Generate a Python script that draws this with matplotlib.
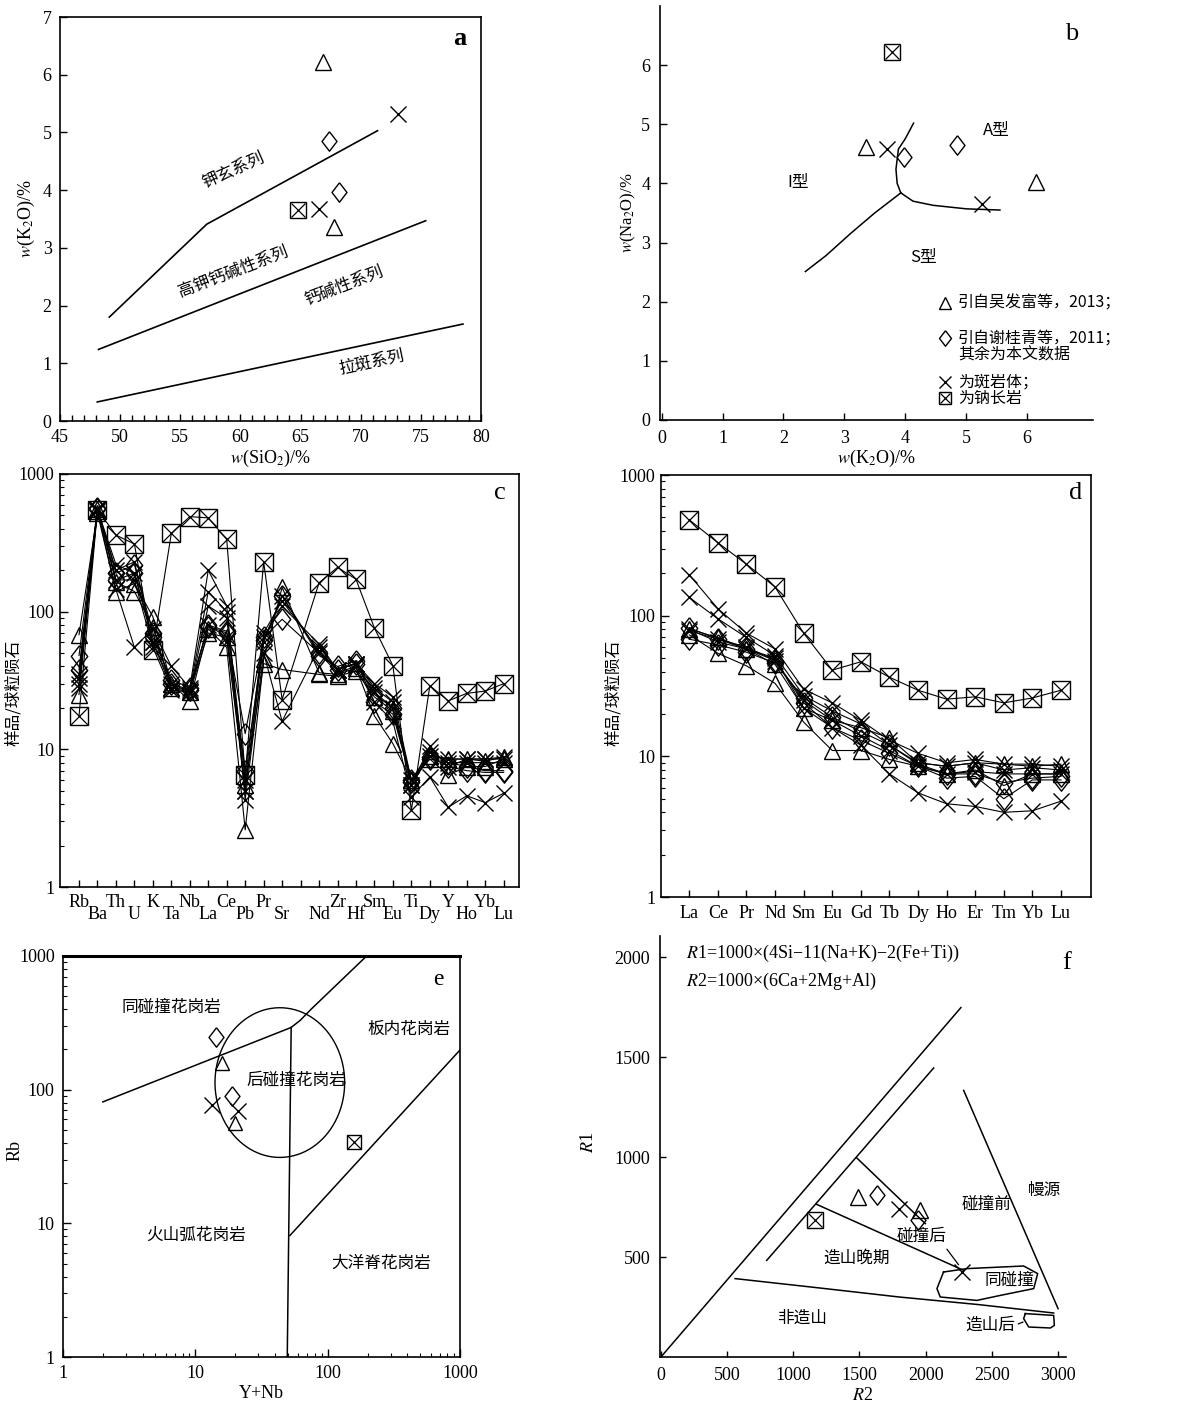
import numpy as np
import matplotlib
matplotlib.use('Agg')
import matplotlib.pyplot as plt
from matplotlib.ticker import MultipleLocator, LogLocator, NullFormatter, FixedLocator, FixedFormatter

plt.rcParams['font.family'] = ['Liberation Serif', 'Noto Sans CJK SC']
plt.rcParams['mathtext.fontset'] = 'stix'
plt.rcParams['axes.linewidth'] = 1.2
plt.rcParams['xtick.direction'] = 'in'
plt.rcParams['ytick.direction'] = 'in'
CJK = ['Noto Sans CJK SC', 'Liberation Serif']

# ---------------- panel a data ----------------
a_shosh_x = [49.1, 57.2, 71.4]; a_shosh_y = [1.80, 3.41, 5.03]
a_hk_x = [48.2, 75.4]; a_hk_y = [1.24, 3.47]
a_th_x = [48.1, 78.5]; a_th_y = [0.33, 1.68]
a_tri_x = [66.9, 67.8]; a_tri_y = [6.22, 3.36]
a_dia_x = [67.4, 68.2]; a_dia_y = [4.85, 3.97]
a_x_x = [73.1, 66.5]; a_x_y = [5.32, 3.68]
a_sq_x = [64.8]; a_sq_y = [3.66]

# ---------------- panel b data ----------------
b_c1_x = [2.36, 2.7, 3.1, 3.5, 3.93]; b_c1_y = [2.51, 2.78, 3.15, 3.5, 3.84]
b_c2_x = [3.93, 3.87, 3.85, 3.89, 4.0, 4.14]; b_c2_y = [3.84, 4.0, 4.24, 4.58, 4.75, 5.02]
b_c3_x = [3.93, 4.13, 4.46, 5.01, 5.56]; b_c3_y = [3.84, 3.70, 3.63, 3.57, 3.55]
b_sq_x = [3.78]; b_sq_y = [6.23]
b_tri_x = [3.36, 6.16]; b_tri_y = [4.62, 4.02]
b_x_x = [3.70, 5.27]; b_x_y = [4.59, 3.66]
b_dia_x = [3.98, 4.85]; b_dia_y = [4.45, 4.65]

# ---------------- panel c data ----------------
c_elements = ['Rb', 'Ba', 'Th', 'U', 'K', 'Ta', 'Nb', 'La', 'Ce', 'Pb', 'Pr', 'Sr', 'P',
              'Nd', 'Zr', 'Hf', 'Sm', 'Eu', 'Ti', 'Dy', 'Y', 'Ho', 'Yb', 'Lu']
c_shown = [e if e != 'P' else '' for e in c_elements]
nan = np.nan
c_sq = [17.5, 550, 360, 310, 53, 370, 490, 480, 335, 6.5, 230, 23, nan, 162, 210, 172, 76, 40.5, 3.6, 29, 22.5, 25.5, 26.5, 30]
c_t1 = [68, 520, 140, 160, 92, 30, 22.5, 75, 55, 2.6, 45, 150, nan, 36, 35, 39, 17.5, 11, 6, 8.5, 6.5, 7.5, 7.5, 8.5]
c_t2 = [25, 560, 165, 140, 78, 28, 26, 70, 65, 5.5, 42, 38, nan, 35, 34, 37, 24, 19, 6, 9, 8.5, 8.5, 8.2, 8.8]
c_d1 = [48, 570, 190, 220, 70, 30, 27, 80, 72, 13, 65, 88, nan, 50, 38, 42, 25, 20, 6, 8.5, 8, 7.5, 7, 7]
c_d2 = [38, 560, 170, 190, 65, 32, 28, 78, 70, 7, 62, 130, nan, 48, 40, 44, 22, 18, 5.8, 8.8, 7.5, 7, 6.8, 6.8]
c_x1 = [30, 540, 145, 55, 75, 40, 28, 200, 110, 4.3, 50, 16, nan, 55, 38, 42, 28, 22, 5.5, 10.5, 7.5, 8.5, 8.5, 8.8]
c_x2 = [33, 560, 200, 230, 60, 28, 27, 140, 100, 6, 70, 120, nan, 52, 38, 42, 26, 20, 5.5, 9, 8.5, 8.5, 8.5, 8.5]
c_x3 = [28, 560, 170, 170, 55, 27, 26, 80, 65, 5, 60, 130, nan, 50, 36, 40, 22, 16, 4.5, 6.3, 3.8, 4.6, 4.1, 4.8]
c_x4 = [35, 550, 220, 190, 60, 30, 26, 110, 90, 5, 65, 110, nan, 58, 38, 42, 30, 24, 6, 9.5, 8, 8, 8, 8]

# ---------------- panel d data ----------------
d_elements = ['La', 'Ce', 'Pr', 'Nd', 'Sm', 'Eu', 'Gd', 'Tb', 'Dy', 'Ho', 'Er', 'Tm', 'Yb', 'Lu']
d_sq = [480, 330, 232, 160, 75, 41, 47, 36.5, 29.5, 25.5, 26.5, 24, 26, 29.5]
d_x1 = [195, 112, 75, 58, 30, 24, 18, 13, 10.5, 9, 9.5, 8.8, 8.8, 8.5]
d_x2 = [135, 95, 70, 52, 27, 21, 17, 12, 9, 8.5, 9, 8, 8.3, 8]
d_x3 = [80, 65, 58, 50, 22, 16, 12, 7.5, 5.5, 4.6, 4.4, 4.0, 4.1, 4.8]
d_x4 = [78, 68, 60, 48, 25, 18, 14, 11, 8.5, 7.5, 7.8, 7.5, 7.5, 7.5]
d_t1 = [73, 54, 44, 33, 17.5, 11, 11, 9.5, 8.5, 7.5, 8, 6.2, 7.5, 7.5]
d_t2 = [80, 70, 58, 45, 22, 18, 16, 13.5, 9, 8.5, 9, 8.8, 8.5, 8.8]
d_d1 = [82, 68, 58, 48, 24, 16, 13, 10.5, 8.5, 7, 7.2, 5, 6.8, 6.8]
d_d2 = [68, 62, 55, 46, 26, 19, 15, 12, 8.8, 7.5, 7.5, 6.5, 7, 7.2]

# ---------------- panel e data ----------------
e_b1_x = [2, 53, 62, 75, 197]; e_b1_y = [81, 292, 330, 400, 1000]
e_b2_x = [53, 49.5]; e_b2_y = [292, 1]
e_b3_x = [51.8, 1000]; e_b3_y = [8.1, 198]
e_circle_center = (43.5, 113); e_circle_rad_dec = (0.49, 0.56)
e_dia_x = [14.4, 18.8]; e_dia_y = [249, 90]
e_tri_x = [16.0, 20.1]; e_tri_y = [159, 56.8]
e_x_x = [13.4, 21.0]; e_x_y = [76.6, 69]
e_sq_x = [158]; e_sq_y = [40.7]

# ---------------- panel f data ----------------
f_l1_x = [0, 2266]; f_l1_y = [0, 1747]
f_l2_x = [799, 2060]; f_l2_y = [483, 1445]
f_l3_x = [1480, 1997]; f_l3_y = [995, 667]
f_l4_x = [1177, 2287]; f_l4_y = [763, 433]
f_l5_x = [560, 1200, 1800, 2400, 2967]; f_l5_y = [392, 345, 300, 262, 220]
f_l6_x = [2287, 3000]; f_l6_y = [1333, 242]
f_syn_x = [2135, 2312, 2740, 2846, 2816, 2564, 2387, 2110, 2085, 2135]
f_syn_y = [425, 442, 455, 417, 342, 308, 283, 300, 342, 425]
f_post_x = [2753, 2967, 2972, 2942, 2778, 2740, 2753]
f_post_y = [217, 208, 158, 145, 150, 192, 217]
f_tri_x = [1492, 1959]; f_tri_y = [800, 733]
f_dia_x = [1631, 1939]; f_dia_y = [812, 683]
f_x_x = [1802, 2274]; f_x_y = [740, 425]
f_sq_x = [1165]; f_sq_y = [683]

DIAMOND = [(0, 1), (0.77, 0), (0, -1), (-0.77, 0), (0, 1)]


def mk(ax, x, y, kind, ms, line=False, lw=0.8, mew=1.0, **kw):
    ls = '-' if line else 'none'
    base = dict(color='black', linestyle=ls, lw=lw, mfc='none', mec='black', mew=mew, **kw)
    if kind == 'tri':
        ax.plot(x, y, marker='^', ms=ms, **base)
    elif kind == 'dia':
        ax.plot(x, y, marker=DIAMOND, ms=ms * 1.4, **base)
    elif kind == 'x':
        ax.plot(x, y, marker='x', ms=ms, **base)
    elif kind == 'sq':
        ax.plot(x, y, marker='s', ms=ms, **base)
        b2 = dict(base); b2['linestyle'] = 'none'; b2['mew'] = mew * 0.9
        ax.plot(x, y, marker='x', ms=ms * 0.98, **b2)


W, H = 1194, 1406
fig = plt.figure(figsize=(W / 100, H / 100), dpi=100)


def add_ax(x0, y0, x1, y1):
    return fig.add_axes([x0 / W, 1 - y1 / H, (x1 - x0) / W, (y1 - y0) / H])


TICK = 13

# ================= panel a =================
ax = add_ax(60, 17, 481, 421)
ax.set_xlim(45, 80); ax.set_ylim(0, 7)
ax.xaxis.set_major_locator(MultipleLocator(5)); ax.xaxis.set_minor_locator(MultipleLocator(1))
ax.yaxis.set_major_locator(MultipleLocator(1))
ax.tick_params(which='major', length=5, width=1, labelsize=TICK, pad=6)
ax.tick_params(which='minor', length=4, width=1)
for xs, ys in [(a_shosh_x, a_shosh_y), (a_hk_x, a_hk_y), (a_th_x, a_th_y)]:
    ax.plot(xs, ys, color='black', lw=1.2)
mk(ax, a_tri_x, a_tri_y, 'tri', 11)
mk(ax, a_dia_x, a_dia_y, 'dia', 10)
mk(ax, a_x_x, a_x_y, 'x', 11)
mk(ax, a_sq_x, a_sq_y, 'sq', 11)
ax.text(59.4, 4.34, '钾玄系列', family=CJK, fontsize=12, rotation=24, ha='center', va='center')
ax.text(59.4, 2.58, '高钾钙碱性系列', family=CJK, fontsize=12, rotation=21, ha='center', va='center')
ax.text(68.6, 2.35, '钙碱性系列', family=CJK, fontsize=12, rotation=21, ha='center', va='center')
ax.text(70.9, 1.02, '拉斑系列', family=CJK, fontsize=12, rotation=12, ha='center', va='center')
ax.text(78.2, 6.62, 'a', fontsize=19, fontweight='bold', ha='center', va='center')
ax.set_xlabel(r'$w$(SiO$_2$)/%', fontsize=13, labelpad=1)
ax.set_ylabel(r'$w$(K$_2$O)/%', fontsize=13, labelpad=4)

# ================= panel b =================
ax = add_ax(660, 6, 1093, 420)
ax.set_xlim(-0.03, 7.09); ax.set_ylim(0, 7.0)
for s in ['top', 'right']:
    ax.spines[s].set_visible(False)
ax.set_xticks(range(0, 7)); ax.set_yticks(range(0, 7))
ax.tick_params(which='major', length=5, width=1, labelsize=TICK, pad=7)
for xs, ys in [(b_c1_x, b_c1_y), (b_c2_x, b_c2_y), (b_c3_x, b_c3_y)]:
    ax.plot(xs, ys, color='black', lw=1.1)
mk(ax, b_sq_x, b_sq_y, 'sq', 11)
mk(ax, b_tri_x, b_tri_y, 'tri', 11)
mk(ax, b_x_x, b_x_y, 'x', 11)
mk(ax, b_dia_x, b_dia_y, 'dia', 10)
ax.text(5.5, 4.89, 'A型', family=CJK, fontsize=12, ha='center', va='center')
ax.text(2.24, 4.02, 'I型', family=CJK, fontsize=12, ha='center', va='center')
ax.text(4.3, 2.74, 'S型', family=CJK, fontsize=12, ha='center', va='center')
ax.text(6.74, 6.53, 'b', fontsize=19, ha='center', va='center')
leg_rows = [('tri', 1.98, '引自吴发富等，2013；'), ('dia', 1.38, '引自谢桂青等，2011；'),
            (None, 1.10, '其余为本文数据'), ('x', 0.65, '为斑岩体；'), ('sq', 0.37, '为钠长岩')]
for kind, yy, txt in leg_rows:
    if kind is not None:
        mk(ax, [4.65], [yy], kind, 8, clip_on=False)
    ax.text(4.87, yy, txt, family=CJK, fontsize=11.5, ha='left', va='center', clip_on=False)
ax.set_xlabel(r'$w$(K$_2$O)/%', fontsize=13, labelpad=1)
ax.set_ylabel(r'$w$(Na$_2$O)/%', fontsize=12, labelpad=2)

# ================= panel c =================
ax = add_ax(60, 474, 519, 887)
ax.set_yscale('log'); ax.set_ylim(1, 1000); ax.set_xlim(-0.03, 24.83)
pos = np.arange(1, len(c_elements) + 1)
odd = pos[0::2]; even = pos[1::2]
ax.xaxis.set_major_locator(FixedLocator(odd))
ax.xaxis.set_major_formatter(FixedFormatter([c_shown[i - 1] for i in odd]))
ax.xaxis.set_minor_locator(FixedLocator(even))
ax.xaxis.set_minor_formatter(FixedFormatter([c_shown[i - 1] for i in even]))
ax.tick_params(axis='x', which='major', length=5, width=1, labelsize=TICK, pad=5)
ax.tick_params(axis='x', which='minor', length=5, width=1, labelsize=TICK, pad=14)
ax.yaxis.set_major_locator(FixedLocator([1, 10, 100, 1000]))
ax.yaxis.set_major_formatter(FixedFormatter(['1', '10', '100', '1000']))
ax.yaxis.set_minor_locator(LogLocator(base=10, subs=np.arange(2, 10), numticks=10))
ax.yaxis.set_minor_formatter(NullFormatter())
ax.tick_params(axis='y', which='major', length=6, width=1, labelsize=TICK, pad=4)
ax.tick_params(axis='y', which='minor', length=3, width=0.8)
for ser, kind, ms in [(c_t1, 'tri', 12), (c_t2, 'tri', 12), (c_d1, 'dia', 11), (c_d2, 'dia', 11),
                      (c_x1, 'x', 12), (c_x2, 'x', 12), (c_x3, 'x', 12), (c_x4, 'x', 12), (c_sq, 'sq', 13)]:
    arr = np.array(ser, dtype=float)
    ok = ~np.isnan(arr)
    mk(ax, pos[ok], arr[ok], kind, ms, line=True, lw=0.8)
ax.text(0.959, 0.954, 'c', transform=ax.transAxes, fontsize=19, ha='center', va='center')
ax.set_ylabel('样品/球粒陨石', family=CJK, fontsize=12)
ax.yaxis.set_label_coords(-0.083, 0.47)

# ================= panel d =================
ax = add_ax(661, 475, 1091, 897)
ax.set_yscale('log'); ax.set_ylim(1, 1000); ax.set_xlim(0.01, 15.05)
dpos = np.arange(1, len(d_elements) + 1)
ax.set_xticks(dpos); ax.set_xticklabels(d_elements)
ax.tick_params(axis='x', which='major', length=5, width=1, labelsize=TICK, pad=6)
ax.yaxis.set_major_locator(FixedLocator([1, 10, 100, 1000]))
ax.yaxis.set_major_formatter(FixedFormatter(['1', '10', '100', '1000']))
ax.yaxis.set_minor_locator(LogLocator(base=10, subs=np.arange(2, 10), numticks=10))
ax.yaxis.set_minor_formatter(NullFormatter())
ax.tick_params(axis='y', which='major', length=6, width=1, labelsize=TICK, pad=4)
ax.tick_params(axis='y', which='minor', length=3, width=0.8)
for ser, kind, ms in [(d_t1, 'tri', 12), (d_t2, 'tri', 12), (d_d1, 'dia', 11), (d_d2, 'dia', 11),
                      (d_x1, 'x', 12), (d_x2, 'x', 12), (d_x3, 'x', 12), (d_x4, 'x', 12), (d_sq, 'sq', 13)]:
    mk(ax, dpos, ser, kind, ms, line=True, lw=0.8)
ax.text(0.965, 0.957, 'd', transform=ax.transAxes, fontsize=19, ha='center', va='center')
ax.set_ylabel('样品/球粒陨石', family=CJK, fontsize=12)
ax.yaxis.set_label_coords(-0.091, 0.483)

# ================= panel e =================
ax = add_ax(63, 956, 460, 1357)
ax.set_xscale('log'); ax.set_yscale('log')
ax.set_xlim(1, 1000); ax.set_ylim(1, 1000)
for a_ in (ax.xaxis, ax.yaxis):
    a_.set_major_locator(FixedLocator([1, 10, 100, 1000]))
    a_.set_major_formatter(FixedFormatter(['1', '10', '100', '1000']))
    a_.set_minor_locator(LogLocator(base=10, subs=np.arange(2, 10), numticks=10))
    a_.set_minor_formatter(NullFormatter())
ax.tick_params(which='major', length=6, width=1, labelsize=TICK, pad=6)
ax.tick_params(which='minor', length=3, width=0.8)
ax.spines['top'].set_linewidth(2.2)
for xs, ys in [(e_b1_x, e_b1_y), (e_b2_x, e_b2_y), (e_b3_x, e_b3_y)]:
    ax.plot(xs, ys, color='black', lw=1.1)
t = np.linspace(0, 2 * np.pi, 200)
cx, cy = np.log10(e_circle_center[0]), np.log10(e_circle_center[1])
ax.plot(10 ** (cx + e_circle_rad_dec[0] * np.cos(t)), 10 ** (cy + e_circle_rad_dec[1] * np.sin(t)),
        color='black', lw=1.0)
mk(ax, e_dia_x, e_dia_y, 'dia', 10)
mk(ax, e_tri_x, e_tri_y, 'tri', 10.5)
mk(ax, e_x_x, e_x_y, 'x', 11)
mk(ax, e_sq_x, e_sq_y, 'sq', 10.5)
for txt, xx, yy in [('同碰撞花岗岩', 6.6, 412), ('板内花岗岩', 414, 282), ('后碰撞花岗岩', 58, 118),
                    ('火山弧花岗岩', 10.2, 8.1), ('大洋脊花岗岩', 255, 5.0)]:
    ax.text(xx, yy, txt, family=CJK, fontsize=12, ha='center', va='center')
ax.text(685, 668, 'e', fontsize=17, ha='center', va='center')
ax.set_xlabel('Y+Nb', fontsize=13, labelpad=2)
ax.set_ylabel('Rb', fontsize=13)
ax.yaxis.set_label_coords(-0.10, 0.516)

# ================= panel f =================
ax = add_ax(660, 936, 1066, 1357)
ax.set_xlim(-7, 3060); ax.set_ylim(0, 2105)
for s in ['top', 'right']:
    ax.spines[s].set_visible(False)
ax.set_xticks(np.arange(0, 3001, 500)); ax.set_yticks(np.arange(500, 2001, 500))
ax.tick_params(which='major', length=4, width=1, labelsize=TICK, pad=7)
for xs, ys in [(f_l1_x, f_l1_y), (f_l2_x, f_l2_y), (f_l3_x, f_l3_y), (f_l4_x, f_l4_y),
               (f_l5_x, f_l5_y), (f_l6_x, f_l6_y), (f_syn_x, f_syn_y), (f_post_x, f_post_y)]:
    ax.plot(xs, ys, color='black', lw=1.1)
ax.annotate('', xy=(2261, 450), xytext=(2148, 550),
            arrowprops=dict(arrowstyle='-', color='black', lw=0.9))
ax.annotate('', xy=(2755, 180), xytext=(2680, 160),
            arrowprops=dict(arrowstyle='-', color='black', lw=0.9))
mk(ax, f_tri_x, f_tri_y, 'tri', 11)
mk(ax, f_dia_x, f_dia_y, 'dia', 10)
mk(ax, f_x_x, f_x_y, 'x', 12)
mk(ax, f_sq_x, f_sq_y, 'sq', 11)
for txt, xx, yy in [('造山晚期', 1480, 492), ('非造山', 1064, 192), ('碰撞前', 2458, 763),
                    ('幔源', 2892, 833), ('同碰撞', 2634, 383), ('造山后', 2488, 158), ('碰撞后', 1971, 603)]:
    ax.text(xx, yy, txt, family=CJK, fontsize=12, ha='center', va='center')
ax.text(190, 2020, r'$R$1=1000×(4Si−11(Na+K)−2(Fe+Ti))', fontsize=13, ha='left', va='center')
ax.text(190, 1880, r'$R$2=1000×(6Ca+2Mg+Al)', fontsize=13, ha='left', va='center')
ax.text(1.002, 0.936, 'f', transform=ax.transAxes, fontsize=19, ha='center', va='center')
ax.set_xlabel(r'$R$2', fontsize=13, labelpad=2)
ax.set_ylabel(r'$R$1', fontsize=13)
ax.yaxis.set_label_coords(-0.155, 0.51)

fig.savefig('out.png', dpi=100)
